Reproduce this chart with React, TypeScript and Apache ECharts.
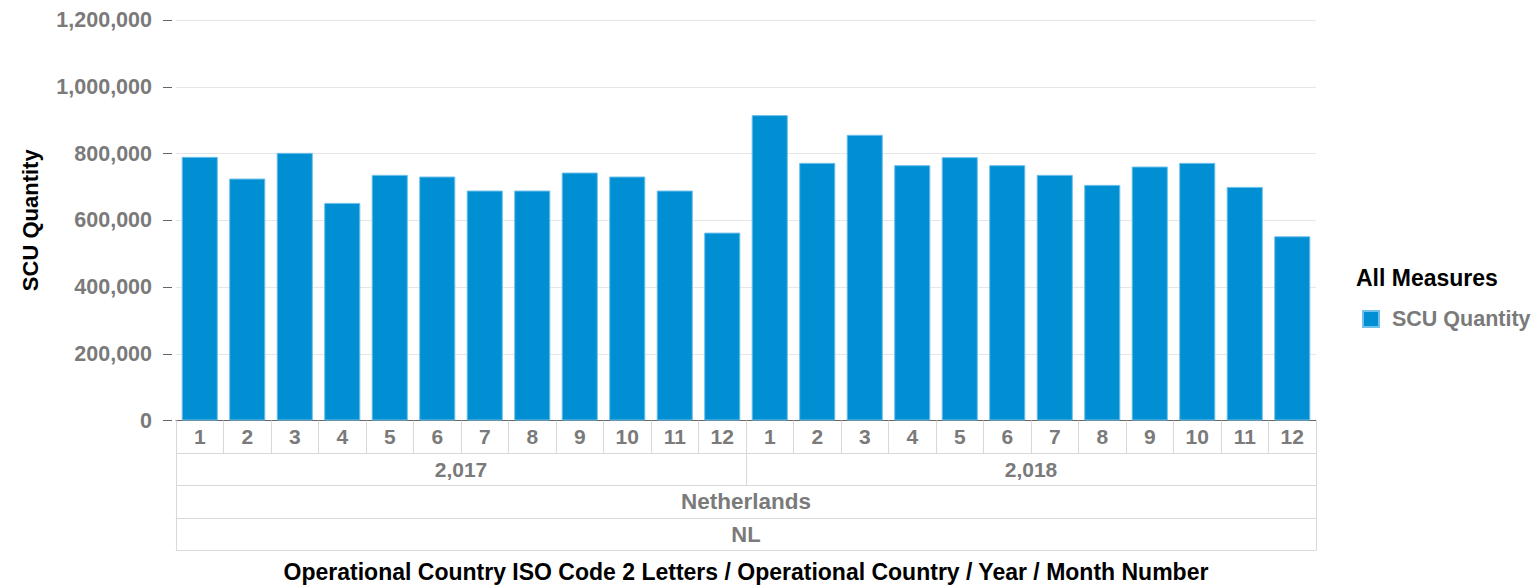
import React, { useEffect, useRef } from "react";
import * as echarts from "echarts";

const months = ["1","2","3","4","5","6","7","8","9","10","11","12","1","2","3","4","5","6","7","8","9","10","11","12"];
const years = ["2,017", "2,018"];
const countries = ["Netherlands"];
const isoCodes = ["NL"];
const values2017 = [790000, 725000, 802000, 652000, 736000, 731000, 689000, 689000, 743000, 731000, 689000, 563000];
const values2018 = [915000, 772000, 856000, 765000, 789000, 765000, 736000, 706000, 761000, 772000, 700000, 552000];
const yTicks = { min: 0, max: 1200000, interval: 200000 };

const FONT = 'Arial, "Liberation Sans", sans-serif';
const GRAY = "#7a7a7a";
const LINE = "#d9d9d9";
const ROW = 32.5;

export default function App() {
  const ref = useRef<HTMLDivElement>(null);
  useEffect(() => {
    if (!ref.current) return;
    const chart = echarts.init(ref.current, null, { renderer: "svg" });
    const labelStyle = { color: GRAY, fontFamily: FONT, fontWeight: "bold" as const, fontSize: 21 };
    const tableAxis = (data: string[], offset: number, extra: any = {}, fontSize = 21) => ({
      type: "category",
      data,
      gridIndex: 0,
      position: "bottom",
      offset,
      axisLine: { show: true, lineStyle: { color: LINE, width: 1 } },
      axisTick: { show: true, length: ROW, lineStyle: { color: LINE, width: 1 } },
      axisLabel: { ...labelStyle, fontSize, margin: ROW / 2, verticalAlign: "middle", interval: 0 },
      splitLine: { show: false },
      ...extra,
    });
    chart.setOption({
      animation: false,
      grid: { left: 176, right: 221, top: 20, bottom: 163, containLabel: false },
      title: {
        text: "All Measures",
        left: 1356,
        top: 266,
        padding: 0,
        textStyle: { color: "#000", fontFamily: FONT, fontWeight: "bold", fontSize: 23 },
      },
      legend: {
        left: 1362,
        top: 308,
        icon: "rect",
        itemWidth: 16,
        itemHeight: 16,
        padding: 0,
        textStyle: { ...labelStyle, fontSize: 21.5, padding: [0, 0, 0, 8] },
        data: ["SCU Quantity"],
      },
      xAxis: [
        tableAxis(months, 0, {
          axisLine: { show: true, lineStyle: { color: "#666", width: 1 } },
        }),
        tableAxis(years, ROW),
        tableAxis(countries, ROW * 2, {}, 22.5),
        tableAxis(isoCodes, ROW * 3, {}, 22),
        tableAxis([""], ROW * 4, {
          axisTick: { show: false },
          axisLabel: { show: false },
          name: "Operational Country ISO Code 2 Letters / Operational Country / Year / Month Number",
          nameLocation: "middle",
          nameGap: 21,
          nameTextStyle: { color: "#000", fontFamily: FONT, fontWeight: "bold", fontSize: 23, verticalAlign: "middle" },
        }),
      ],
      yAxis: {
        type: "value",
        min: yTicks.min,
        max: yTicks.max,
        interval: yTicks.interval,
        offset: 4,
        axisLine: { show: false },
        axisTick: { show: true, length: 9, lineStyle: { color: "#666" } },
        axisLabel: {
          ...labelStyle,
          fontSize: 21.5,
          margin: 20,
          formatter: (v: number) => v.toLocaleString("en-US"),
        },
        splitLine: { show: true, lineStyle: { color: "#e6e6e6", width: 1 } },
        name: "SCU Quantity",
        nameLocation: "middle",
        nameRotate: 90,
        nameGap: 142,
        nameTextStyle: { color: "#000", fontFamily: FONT, fontWeight: "bold", fontSize: 22, verticalAlign: "middle" },
      },
      series: [
        {
          name: "SCU Quantity",
          type: "bar",
          xAxisIndex: 0,
          data: [...values2017, ...values2018],
          barCategoryGap: "24%",
          itemStyle: { color: "#008fd3", borderColor: "#6fc0ea", borderWidth: 1 },
        },
      ],
    });
    return () => chart.dispose();
  }, []);
  return (
    <div
      ref={ref}
      style={{ position: "fixed", left: 0, top: 0, width: 1537, height: 588, background: "#fff" }}
    />
  );
}
